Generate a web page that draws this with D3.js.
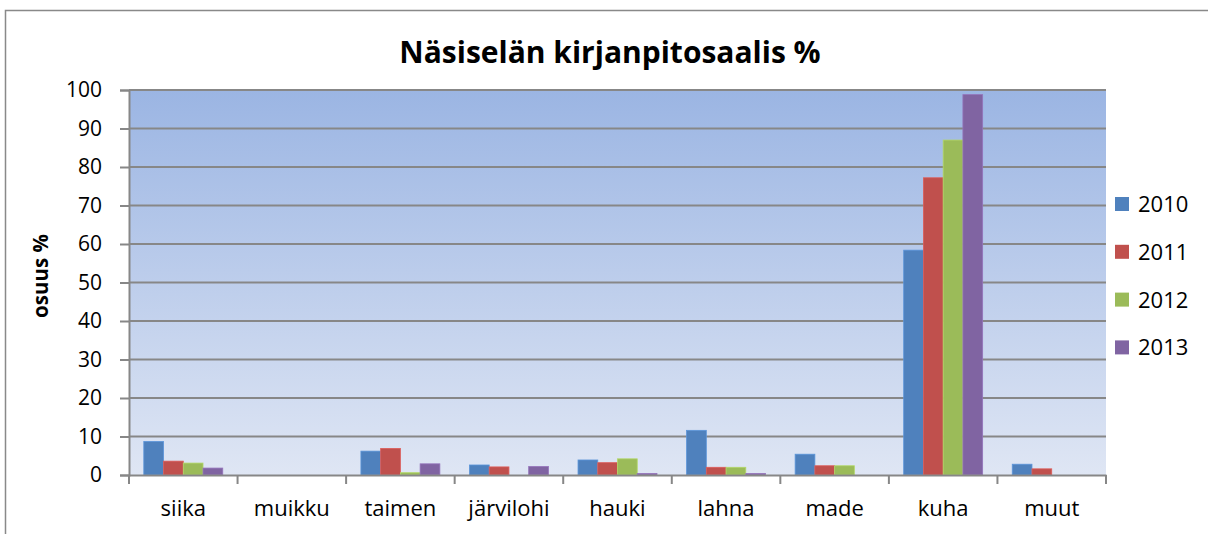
<!DOCTYPE html>
<html lang="fi">
<head>
  <meta charset="UTF-8">
  <title>Näsiselän kirjanpitosaalis</title>
  <style>
    body { margin: 0; background: #fff; }
    svg { display: block; font-family: "Open Sans", Lato, sans-serif; }
  </style>
</head>
<body>
  <script src="https://d3js.org/d3.v7.min.js"></script>
  <script>
    'use strict';

    const categories = ['siika', 'muikku', 'taimen', 'järvilohi', 'hauki', 'lahna', 'made', 'kuha', 'muut'];
    const years = ['2010', '2011', '2012', '2013'];
    const v2010 = [8.7, 0, 6.2, 2.6, 3.9, 11.6, 5.4, 58.4, 2.8];
    const v2011 = [3.6, 0, 6.9, 2.1, 3.2, 2.0, 2.4, 77.2, 1.6];
    const v2012 = [3.1, 0, 0.6, 0, 4.2, 2.0, 2.4, 87.0, 0];
    const v2013 = [1.8, 0, 2.9, 2.2, 0.4, 0.4, 0, 98.8, 0];
    const yTicks = [0, 10, 20, 30, 40, 50, 60, 70, 80, 90, 100];
    const colors = ['#4f81bd', '#c0504d', '#9bbb59', '#8064a2'];

    const series = [v2010, v2011, v2012, v2013];

    const width = 1208;
    const height = 534;
    const plot = { left: 129, right: 1106, top: 90, bottom: 475 };
    const font = '"Open Sans", Lato, sans-serif';

    const svg = d3.select('body').append('svg')
      .attr('width', width)
      .attr('height', height);

    // outer chart frame
    svg.append('rect')
      .attr('x', 5.5).attr('y', 10.5)
      .attr('width', 1210).attr('height', 540)
      .attr('fill', '#fff')
      .attr('stroke', '#898989')
      .attr('stroke-width', 1.5);

    const grad = svg.append('defs').append('linearGradient')
      .attr('id', 'bg').attr('x1', 0).attr('y1', 0).attr('x2', 0).attr('y2', 1);
    grad.append('stop').attr('offset', '0%').attr('stop-color', '#9bb5e3');
    grad.append('stop').attr('offset', '100%').attr('stop-color', '#dfe6f4');

    const x = d3.scaleBand().domain(categories).range([plot.left, plot.right]);
    const y = d3.scaleLinear().domain([0, 100]).range([plot.bottom, plot.top]);

    // 150% gap width: bar = band / (4 + 1.5)
    const barW = x.bandwidth() / (years.length + 1.5);
    const x1 = d3.scaleBand().domain(years)
      .range([barW * 0.75, barW * 0.75 + barW * years.length]);

    svg.append('rect')
      .attr('x', plot.left).attr('y', plot.top)
      .attr('width', plot.right - plot.left).attr('height', plot.bottom - plot.top)
      .attr('fill', 'url(#bg)');

    // gridlines
    svg.append('g').selectAll('line')
      .data(yTicks.filter(t => t > 0)).enter().append('line')
      .attr('x1', plot.left).attr('x2', plot.right)
      .attr('y1', d => y(d)).attr('y2', d => y(d))
      .attr('stroke', '#878787').attr('stroke-width', 2);

    // bars
    const groups = svg.append('g').selectAll('g')
      .data(series).enter().append('g')
      .attr('fill', (d, i) => colors[i]);

    groups.each(function (vals, si) {
      d3.select(this).selectAll('rect')
        .data(vals.map((v, ci) => ({ v, c: categories[ci] })).filter(d => d.v > 0))
        .enter().append('rect')
        .attr('x', d => x(d.c) + x1(years[si]))
        .attr('y', d => y(d.v))
        .attr('width', x1.bandwidth())
        .attr('height', d => y(0) - y(d.v))
        .attr('stroke', d3.color(colors[si]).brighter(0.4))
        .attr('stroke-width', 0.8);
    });

    // y axis
    const yAxis = svg.append('g')
      .attr('transform', `translate(${plot.left},0)`)
      .call(d3.axisLeft(y).tickValues(yTicks).tickSize(9).tickPadding(18));
    yAxis.select('.domain').attr('stroke', '#878787').attr('stroke-width', 2);
    yAxis.selectAll('.tick line').attr('stroke', '#878787').attr('stroke-width', 2);
    yAxis.selectAll('.tick text')
      .attr('font-size', 21).attr('fill', '#000')
      .style('font-family', font);

    // x axis
    const xAxis = svg.append('g')
      .attr('transform', `translate(0,${plot.bottom})`)
      .call(d3.axisBottom(x).tickSize(0).tickPadding(25));
    xAxis.select('.domain').attr('stroke', '#878787').attr('stroke-width', 2);
    xAxis.selectAll('.tick text')
      .attr('font-size', 22).attr('fill', '#000')
      .style('font-family', font);
    // category separator ticks
    svg.append('g').selectAll('line')
      .data(categories.concat(['_end'])).enter().append('line')
      .attr('x1', (d, i) => plot.left + i * x.step())
      .attr('x2', (d, i) => plot.left + i * x.step())
      .attr('y1', plot.bottom).attr('y2', plot.bottom + 9)
      .attr('stroke', '#878787').attr('stroke-width', 2);

    // title
    svg.append('text')
      .attr('x', 610).attr('y', 63)
      .attr('text-anchor', 'middle')
      .attr('font-size', 30).attr('font-weight', 'bold')
      .text('Näsiselän kirjanpitosaalis %');

    // y axis title
    svg.append('text')
      .attr('transform', `translate(48,276) rotate(-90)`)
      .attr('text-anchor', 'middle')
      .attr('font-size', 20.5).attr('font-weight', 'bold')
      .text('osuus %');

    // legend
    const legend = svg.append('g').selectAll('g')
      .data(years).enter().append('g')
      .attr('transform', (d, i) => `translate(1115,${204 + i * 47.8})`);
    legend.append('rect')
      .attr('x', 0).attr('y', -7)
      .attr('width', 14).attr('height', 14)
      .attr('fill', (d, i) => colors[i]);
    legend.append('text')
      .attr('x', 23).attr('y', 8)
      .attr('font-size', 22)
      .text(d => d);
  </script>
</body>
</html>
